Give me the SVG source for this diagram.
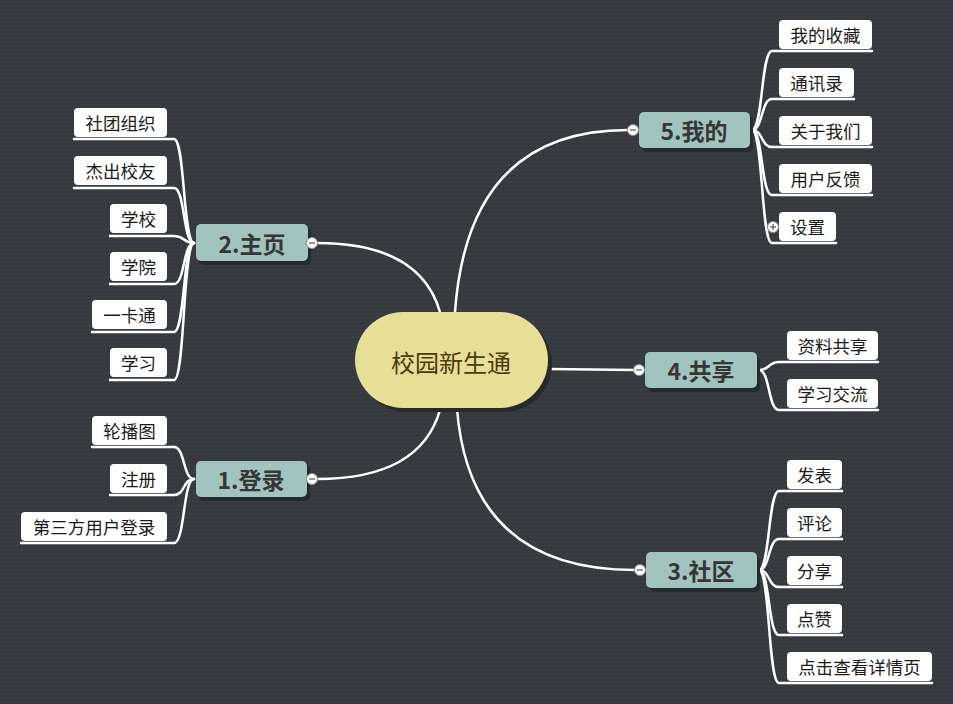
<svg xmlns="http://www.w3.org/2000/svg" width="953" height="704" viewBox="0 0 953 704">
<defs>
<pattern id="dots" width="4" height="4" patternUnits="userSpaceOnUse">
<rect width="4" height="4" fill="#363a3f"/>
<rect x="1" y="1" width="1" height="1" fill="#444a50"/>
</pattern>
<style>
.cn{fill:none;stroke:#ffffff;stroke-width:2.5;stroke-linecap:round}
.mc{fill:none;stroke:#ffffff;stroke-width:2.5}
.sub{fill:#ffffff}
.st{font-family:"Noto Sans CJK SC","Noto Sans",sans-serif;font-size:17.5px;fill:#1a1a1a;text-anchor:middle;dominant-baseline:central}
.tp{fill:#a1c5be}
.sh{fill:#26292d}
.tt{font-family:"Noto Sans CJK SC","Noto Sans",sans-serif;font-size:23px;font-weight:bold;fill:#363636;text-anchor:middle;dominant-baseline:central}
.cc{fill:#ffffff;stroke:#8a8a8a;stroke-width:1}
.cm{stroke:#555;stroke-width:1.2}
</style>
</defs>
<rect width="953" height="704" fill="url(#dots)"/>

<g id="connectors">
<path class="mc" d="M455 312 Q468 130 628 130"/>
<path class="mc" d="M440 312 Q420 243 317 243"/>
<path class="mc" d="M440 410 Q420 479 317 479"/>
<path class="mc" d="M548 369 L634 370"/>
<path class="mc" d="M457 409 Q470 570 635 570"/>
<!-- 2 -->
<path class="cn" d="M74 139 H174 C185 139 183 243 194 243"/>
<path class="cn" d="M74 188 H174 C185 188 183 243 194 243"/>
<path class="cn" d="M110 236 H174 C185 236 183 243 194 243"/>
<path class="cn" d="M110 284 H174 C185 284 183 243 194 243"/>
<path class="cn" d="M92 332 H174 C185 332 183 243 194 243"/>
<path class="cn" d="M110 380 H174 C185 380 183 243 194 243"/>
<!-- 1 -->
<path class="cn" d="M92 447 H174 C185 447 183 479 194 479"/>
<path class="cn" d="M110 495 H174 C185 495 183 479 194 479"/>
<path class="cn" d="M21 543 H174 C185 543 183 479 194 479"/>
<!-- 5 -->
<path class="cn" d="M752 130 C763 130 761 51 772 51 H872"/>
<path class="cn" d="M752 130 C763 130 761 99 772 99 H854"/>
<path class="cn" d="M752 130 C763 130 761 147 772 147 H872"/>
<path class="cn" d="M752 130 C763 130 761 195 772 195 H872"/>
<path class="cn" d="M752 130 C763 130 761 243 772 243 H836"/>
<!-- 4 -->
<path class="cn" d="M759 370 C770 370 768 362 779 362 H878"/>
<path class="cn" d="M759 370 C770 370 768 410 779 410 H878"/>
<!-- 3 -->
<path class="cn" d="M759 570 C770 570 768 491 779 491 H842"/>
<path class="cn" d="M759 570 C770 570 768 539 779 539 H842"/>
<path class="cn" d="M759 570 C770 570 768 587 779 587 H842"/>
<path class="cn" d="M759 570 C770 570 768 635 779 635 H842"/>
<path class="cn" d="M759 570 C770 570 768 683 779 683 H932"/>
</g>

<g id="center">
<rect x="359" y="316" width="193" height="96" rx="48" fill="#26292d"/>
<rect x="355" y="312" width="193" height="96" rx="48" fill="#e8df97"/>
<text x="451" y="361" font-family="'Noto Sans CJK SC','Noto Sans',sans-serif" font-size="24" fill="#4a3a0c" text-anchor="middle" dominant-baseline="central">校园新生通</text>
</g>

<g id="topic-2">
<rect class="sh" x="199" y="228" width="112" height="37" rx="5"/>
<rect class="tp" x="196" y="224" width="112" height="37" rx="5"/>
<text class="tt" x="252" y="243">2.主页</text>
<circle class="cc" cx="312" cy="243" r="5.5"/><line class="cm" x1="309" y1="243" x2="315" y2="243"/>
</g>
<g id="topic-1">
<rect class="sh" x="199" y="465" width="111" height="36" rx="5"/>
<rect class="tp" x="196" y="461" width="111" height="36" rx="5"/>
<text class="tt" x="251" y="479">1.登录</text>
<circle class="cc" cx="312" cy="479" r="5.5"/><line class="cm" x1="309" y1="479" x2="315" y2="479"/>
</g>
<g id="topic-5">
<rect class="sh" x="642" y="116" width="111" height="36" rx="5"/>
<rect class="tp" x="639" y="112" width="111" height="36" rx="5"/>
<text class="tt" x="694" y="130">5.我的</text>
<circle class="cc" cx="633" cy="130" r="5.5"/><line class="cm" x1="630" y1="130" x2="636" y2="130"/>
</g>
<g id="topic-4">
<rect class="sh" x="648" y="356" width="112" height="36" rx="5"/>
<rect class="tp" x="645" y="352" width="112" height="36" rx="5"/>
<text class="tt" x="701" y="370">4.共享</text>
<circle class="cc" cx="639" cy="370" r="5.5"/><line class="cm" x1="636" y1="370" x2="642" y2="370"/>
</g>
<g id="topic-3">
<rect class="sh" x="649" y="556" width="111" height="36" rx="5"/>
<rect class="tp" x="646" y="552" width="111" height="36" rx="5"/>
<text class="tt" x="701" y="570">3.社区</text>
<circle class="cc" cx="640" cy="570" r="5.5"/><line class="cm" x1="637" y1="570" x2="643" y2="570"/>
</g>

<g id="sub-2-1"><rect class="sub" x="74" y="108" width="93" height="29" rx="4"/><text class="st" x="120.5" y="122.5">社团组织</text></g>
<g id="sub-2-2"><rect class="sub" x="74" y="156" width="93" height="29" rx="4"/><text class="st" x="120.5" y="170.5">杰出校友</text></g>
<g id="sub-2-3"><rect class="sub" x="110" y="204" width="57" height="29" rx="4"/><text class="st" x="138.5" y="218.5">学校</text></g>
<g id="sub-2-4"><rect class="sub" x="110" y="252" width="57" height="29" rx="4"/><text class="st" x="138.5" y="266.5">学院</text></g>
<g id="sub-2-5"><rect class="sub" x="92" y="300" width="75" height="29" rx="4"/><text class="st" x="129.5" y="314.5">一卡通</text></g>
<g id="sub-2-6"><rect class="sub" x="110" y="348" width="57" height="29" rx="4"/><text class="st" x="138.5" y="362.5">学习</text></g>

<g id="sub-1-1"><rect class="sub" x="92" y="416" width="75" height="29" rx="4"/><text class="st" x="129.5" y="430.5">轮播图</text></g>
<g id="sub-1-2"><rect class="sub" x="110" y="464" width="57" height="29" rx="4"/><text class="st" x="138.5" y="478.5">注册</text></g>
<g id="sub-1-3"><rect class="sub" x="21" y="512" width="146" height="29" rx="4"/><text class="st" x="94" y="526.5">第三方用户登录</text></g>

<g id="sub-5-1"><rect class="sub" x="779" y="20" width="93" height="29" rx="4"/><text class="st" x="825.5" y="34.5">我的收藏</text></g>
<g id="sub-5-2"><rect class="sub" x="779" y="68" width="75" height="29" rx="4"/><text class="st" x="816.5" y="82.5">通讯录</text></g>
<g id="sub-5-3"><rect class="sub" x="779" y="116" width="93" height="29" rx="4"/><text class="st" x="825.5" y="130.5">关于我们</text></g>
<g id="sub-5-4"><rect class="sub" x="779" y="164" width="93" height="29" rx="4"/><text class="st" x="825.5" y="178.5">用户反馈</text></g>
<g id="sub-5-5"><rect class="sub" x="779" y="212" width="57" height="29" rx="4"/><text class="st" x="807.5" y="226.5">设置</text>
<circle class="cc" cx="773" cy="227" r="5.5"/><line class="cm" x1="770" y1="227" x2="776" y2="227"/><line class="cm" x1="773" y1="224" x2="773" y2="230"/></g>

<g id="sub-4-1"><rect class="sub" x="787" y="331" width="91" height="29" rx="4"/><text class="st" x="832.5" y="345.5">资料共享</text></g>
<g id="sub-4-2"><rect class="sub" x="787" y="379" width="91" height="29" rx="4"/><text class="st" x="832.5" y="393.5">学习交流</text></g>

<g id="sub-3-1"><rect class="sub" x="787" y="460" width="55" height="29" rx="4"/><text class="st" x="814.5" y="474.5">发表</text></g>
<g id="sub-3-2"><rect class="sub" x="787" y="508" width="55" height="29" rx="4"/><text class="st" x="814.5" y="522.5">评论</text></g>
<g id="sub-3-3"><rect class="sub" x="787" y="556" width="55" height="29" rx="4"/><text class="st" x="814.5" y="570.5">分享</text></g>
<g id="sub-3-4"><rect class="sub" x="787" y="604" width="55" height="29" rx="4"/><text class="st" x="814.5" y="618.5">点赞</text></g>
<g id="sub-3-5"><rect class="sub" x="787" y="652" width="145" height="29" rx="4"/><text class="st" x="859.5" y="666.5">点击查看详情页</text></g>
</svg>
